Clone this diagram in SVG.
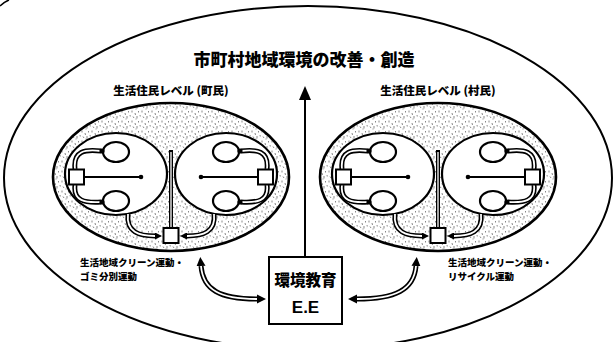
<svg xmlns="http://www.w3.org/2000/svg" width="614" height="342" viewBox="0 0 614 342">
<defs>
<style>
.t{font-family:"Noto Sans CJK JP","Noto Sans CJK SC",sans-serif;font-weight:900;fill:#000}
.ol{fill:#fff;stroke:#000;stroke-width:2.2}
.ln{fill:none;stroke:#000;stroke-width:2}
.db{fill:none;stroke:#000;stroke-width:5}
.dw{fill:none;stroke:#fff;stroke-width:1.8}
.sq{fill:#fff;stroke:#000;stroke-width:2}
</style>
<pattern id="stip" width="10" height="10" patternUnits="userSpaceOnUse">
<rect width="10" height="10" fill="#fff"/>
<path d="M1 0.5v2M4 3l0.5 2M7.5 1v1.5M2 6.5l1 1.5M6 6v2.5M9 5l0.3 1.5M4.5 9h1" stroke="#555" stroke-width="0.7"/>
</pattern>
<marker id="ah" viewBox="0 0 14 12" refX="0" refY="6" markerWidth="14" markerHeight="12" markerUnits="userSpaceOnUse" orient="auto-start-reverse"><path d="M0 0L14 6L0 12z"/></marker>
<marker id="ah2" viewBox="0 0 10 10" refX="0" refY="5" markerWidth="9" markerHeight="10" markerUnits="userSpaceOnUse" orient="auto-start-reverse"><path d="M0 0L10 5L0 10z"/></marker>
<marker id="ah3" viewBox="0 0 10 10" refX="0" refY="5" markerWidth="7" markerHeight="7" markerUnits="userSpaceOnUse" orient="auto"><path d="M0 0L10 5L0 10z"/></marker>
<g id="cl">
<ellipse cx="0" cy="177" rx="118" ry="74" fill="url(#stip)" stroke="#000" stroke-width="2.6"/>
<ellipse class="ol" cx="-55" cy="174" rx="51" ry="41"/>
<ellipse class="ol" cx="55" cy="174" rx="51" ry="41"/>
<ellipse class="ol" cx="-55" cy="152" rx="13" ry="10"/>
<ellipse class="ol" cx="-55" cy="201" rx="13" ry="10"/>
<ellipse class="ol" cx="55" cy="152" rx="13" ry="10"/>
<ellipse class="ol" cx="55" cy="201" rx="13" ry="10"/>
<path class="ln" d="M-87 177H-30M87 177H30"/>
<circle cx="-30" cy="177" r="2.3"/>
<circle cx="30" cy="177" r="2.3"/>
<path class="db" d="M-96 169C-98 151 -86 149 -70 151M-96 185C-98 201 -86 203 -70 202M96 169C98 151 86 149 70 151M96 185C98 201 86 203 70 202"/>
<path class="dw" d="M-96 169C-98 151 -86 149 -70 151M-96 185C-98 201 -86 203 -70 202M96 169C98 151 86 149 70 151M96 185C98 201 86 203 70 202"/>
<circle cx="-69" cy="151" r="2.6"/><circle cx="-69" cy="202" r="2.6"/>
<circle cx="69" cy="151" r="2.6"/><circle cx="69" cy="202" r="2.6"/>
<rect class="sq" x="-102" y="169.5" width="15" height="15"/>
<rect class="sq" x="87" y="169.5" width="15" height="15"/>
<path d="M0 150V228" stroke="#000" stroke-width="4"/>
<path d="M0 152V227" stroke="#fff" stroke-width="1.3"/>
<path class="db" d="M-43 214C-45 232 -32 236 -16 236" marker-end="url(#ah3)"/>
<path class="db" d="M43 214C45 232 32 236 16 236" marker-end="url(#ah3)"/>
<path class="dw" d="M-43 214C-45 232 -32 236 -16 236M43 214C45 232 32 236 16 236"/>
<rect class="sq" x="-7.5" y="228" width="15" height="15"/>
</g>
</defs>
<rect width="614" height="342" fill="#fff"/>
<g id="outer">
<ellipse cx="308" cy="178" rx="304" ry="172" fill="none" stroke="#000" stroke-width="2"/>
<path d="M0 6Q4 2 9 0" fill="none" stroke="#000" stroke-width="1.5"/>
</g>
<g id="title"><text class="t" x="304" y="66" font-size="17" text-anchor="middle">市町村地域環境の改善・創造</text></g>
<g id="cluster-town">
<text class="t" x="171" y="95" font-size="11.5" text-anchor="middle">生活住民レベル (町民)</text>
<use href="#cl" transform="translate(171,0)"/>
<text class="t" x="80" y="266" font-size="9.5">生活地域クリーン運動・</text>
<text class="t" x="80" y="280" font-size="9.5">ゴミ分別運動</text>
</g>
<g id="cluster-village">
<text class="t" x="438" y="95" font-size="11.5" text-anchor="middle">生活住民レベル (村民)</text>
<use href="#cl" transform="translate(438,0)"/>
<text class="t" x="448" y="266" font-size="9.5">生活地域クリーン運動・</text>
<text class="t" x="448" y="280" font-size="9.5">リサイクル運動</text>
</g>
<g id="ee">
<rect x="269" y="257" width="73" height="67" fill="#fff" stroke="#000" stroke-width="2"/>
<text class="t" x="305.5" y="286" font-size="15.5" text-anchor="middle">環境教育</text>
<text x="305.5" y="313" font-size="17" text-anchor="middle" font-family="Liberation Sans Narrow, Liberation Sans, sans-serif" font-weight="700">E.E</text>
</g>
<g id="connectors">
<path d="M305 257V100" stroke="#000" stroke-width="2" fill="none" marker-end="url(#ah)"/>
<path class="db" d="M201 266C203 290 220 299 257 299" marker-start="url(#ah2)" marker-end="url(#ah2)"/>
<path class="dw" d="M201 266C203 290 220 299 257 299"/>
<path class="db" d="M416 266C414 290 395 299 357 299" marker-start="url(#ah2)" marker-end="url(#ah2)"/>
<path class="dw" d="M416 266C414 290 395 299 357 299"/>
</g>
</svg>
